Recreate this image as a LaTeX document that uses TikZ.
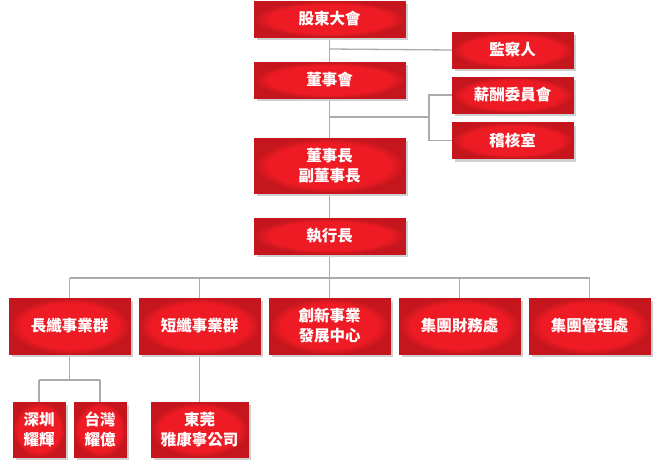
\documentclass[tikz,border=0pt]{standalone}
\usepackage{fontspec}
\newfontfamily\cjk{Noto Sans CJK TC}
\usetikzlibrary{backgrounds}
\definecolor{redin}{HTML}{EE1B24}
\definecolor{redout}{HTML}{C5161D}
\definecolor{shadowc}{HTML}{D0D0D0}
\definecolor{linec}{HTML}{ABABAB}
\pgfdeclareradialshading{boxshade}{\pgfpoint{0bp}{0bp}}{color(0bp)=(redin); color(20bp)=(redin); color(25bp)=(redout); color(50bp)=(redout)}
\tikzset{
  orgbox/.style={shade, shading=boxshade, draw=redout, line width=0.4pt, text=white,
    font=\cjk\bfseries\fontsize{15.5}{20}\selectfont, align=center, inner sep=0pt,
    preaction={fill=shadowc, transform canvas={shift={(2.5pt,-3pt)}}}},
  wide/.style={orgbox, minimum width=151pt, minimum height=36pt},
  side/.style={orgbox, minimum width=121pt, minimum height=36pt},
  unit/.style={orgbox, minimum width=121pt, minimum height=56pt},
  sub/.style={orgbox, minimum width=52pt, minimum height=55pt},
  conn/.style={draw=linec, line width=1.3pt}
}
\begin{document}
\begin{tikzpicture}[x=1pt, y=-1pt]
\useasboundingbox (0,0) rectangle (661,472);
% top column
\node[wide] (gm) at (329.5,19) {股東大會};
\node[wide] (bd) at (329.5,80) {董事會};
\node[wide, minimum height=55pt] (ch) at (329.5,165.5) {董事長\\副董事長};
\node[wide] (ceo) at (329.5,236) {執行長};
% side column
\node[side] (sup) at (512.5,50) {監察人};
\node[side] (rem) at (512.5,95) {薪酬委員會};
\node[side] (aud) at (512.5,140.5) {稽核室};
% second row
\node[unit] (lf) at (69.5,326) {長纖事業群};
\node[unit] (sf) at (199.5,326) {短纖事業群};
\node[unit] (inn) at (329.5,326) {創新事業\\發展中心};
\node[unit] (fin) at (459.5,326) {集團財務處};
\node[unit] (adm) at (589.5,326) {集團管理處};
% third row
\node[sub] (sz) at (39,429.5) {深圳\\耀輝};
\node[sub] (tw) at (100,429.5) {台灣\\耀億};
\node[sub, minimum width=97pt] (dg) at (199.5,429.5) {東莞\\雅康寧公司};
% junctions
\coordinate (j1) at (329.5,49);
\coordinate (j2) at (329.5,117);
\coordinate (j2r) at (429,117);
\coordinate (j2a) at (429,95);
\coordinate (j2b) at (429,140.5);
\coordinate (j3) at (329.5,278);
\coordinate (j3l) at (69.5,278);
\coordinate (j3r) at (589.5,278);
\coordinate (j4) at (69.5,380);
\coordinate (j4l) at (39,380);
\coordinate (j4r) at (100,380);
\begin{scope}[on background layer]
\draw[conn] (gm.south) -- (bd.north);
\draw[conn] (j1) -- (sup.west);
\draw[conn] (bd.south) -- (ch.north);
\draw[conn] (j2) -- (j2r);
\draw[conn] (rem.west) -- (j2a) -- (j2b) -- (aud.west);
\draw[conn] (ch.south) -- (ceo.north);
\draw[conn] (ceo.south) -- (j3);
\draw[conn] (j3l) -- (j3r);
\draw[conn] (j3l) -- (lf.north);
\draw[conn] (sf.north |- j3) -- (sf.north);
\draw[conn] (j3) -- (inn.north);
\draw[conn] (fin.north |- j3) -- (fin.north);
\draw[conn] (j3r) -- (adm.north);
\draw[conn] (lf.south) -- (j4);
\draw[conn] (j4l) -- (j4r);
\draw[conn] (j4l) -- (sz.north);
\draw[conn] (j4r) -- (tw.north);
\draw[conn] (sf.south) -- (dg.north);
\end{scope}
\end{tikzpicture}
\end{document}
